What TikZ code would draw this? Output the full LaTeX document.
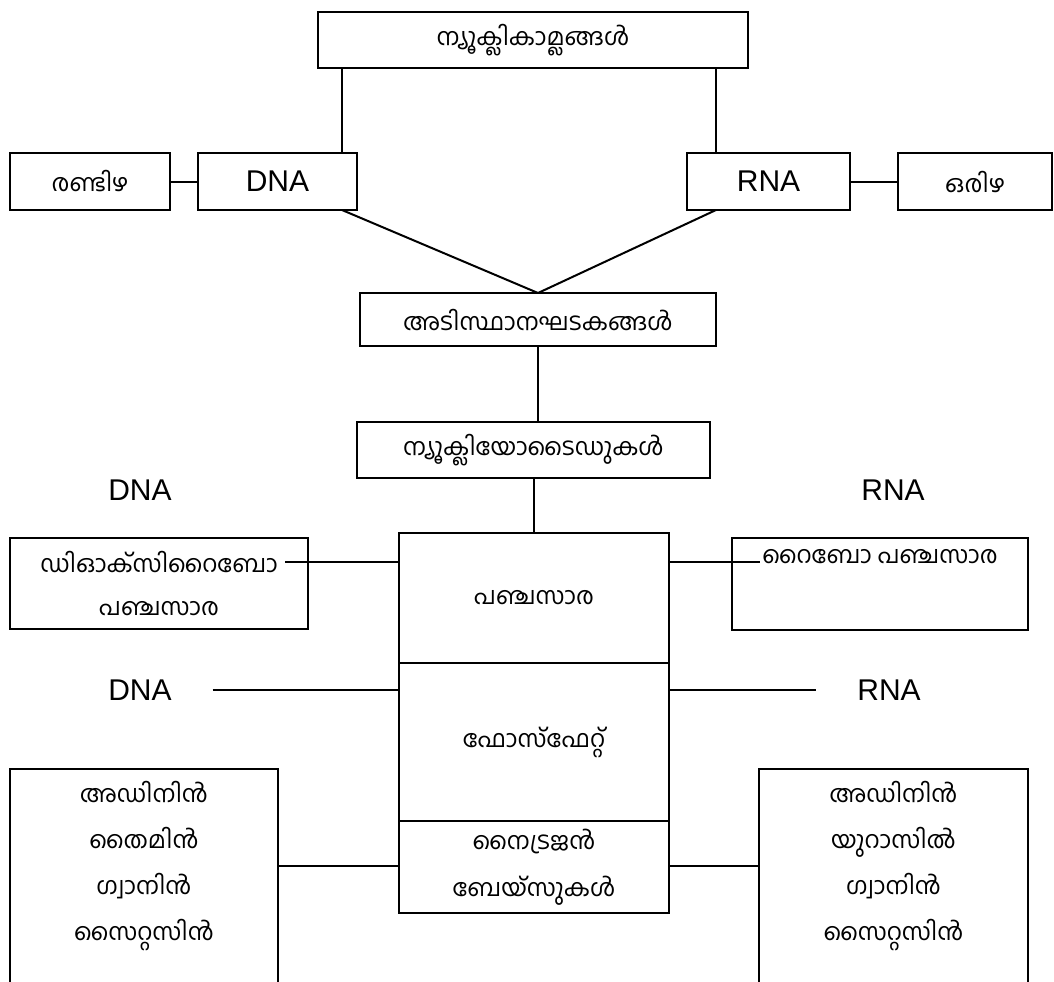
\documentclass[tikz,border=0pt]{standalone}
\usepackage{fontspec}
\setmainfont{Liberation Sans}
\newfontfamily\ml[Script=Malayalam]{Hind Kochi}
\begin{document}
\begin{tikzpicture}[x=0.5pt,y=-0.5pt,
  every node/.style={inner sep=0pt, outer sep=0pt, anchor=center},
  box/.style={draw, line width=1pt},
  mltext/.style={font=\ml\fontsize{12}{21.5}\selectfont, align=center},
  latin/.style={font=\fontsize{15}{18}\selectfont},
  link/.style={line width=1pt}]
\useasboundingbox[fill=white] (0,0) rectangle (1054,981);

% upper part: nucleic acids and the two kinds
\node[box, mltext, minimum width=215pt, minimum height=28pt] (top) at (533,40) {ന്യൂക്ലികാമ്ലങ്ങൾ};
\node[box, mltext, minimum width=80pt, minimum height=28.5pt] (dbl) at (90,181.5) {രണ്ടിഴ};
\node[box, latin, minimum width=79.5pt, minimum height=28.5pt] (dna) at (277.5,181.5) {DNA};
\node[box, latin, minimum width=81.5pt, minimum height=28.5pt] (rna) at (768.5,181.5) {RNA};
\node[box, mltext, minimum width=77pt, minimum height=28.5pt] (sgl) at (975,181.5) {ഒരിഴ};

\node[box, mltext, minimum width=178pt, minimum height=26.5pt] (base) at (538,319.5) {അടിസ്ഥാനഘടകങ്ങൾ};
\node[box, mltext, minimum width=176.5pt, minimum height=28pt] (nuc) at (533.5,450) {ന്യൂക്ലിയോടൈഡുകൾ};

% central column: sugar, phosphate, nitrogen bases
\node[box, mltext, minimum width=135pt, minimum height=65pt] (sugar) at (534,598) {പഞ്ചസാര};
\node[box, mltext, minimum width=135pt, minimum height=79pt] (phos) at (534,742) {ഫോസ്ഫേറ്റ്};
\node[box, mltext, minimum width=135pt, minimum height=46pt, font=\ml\fontsize{12}{23.5}\selectfont] (nbase) at (534,867) {നൈട്രജൻ\\ബേയ്സുകൾ};

% side labels
\node[latin] (dnaA) at (140,490) {DNA};
\node[latin] (rnaA) at (893,490) {RNA};
\node[latin] (dnaB) at (140,690) {DNA};
\node[latin] (rnaB) at (889,690) {RNA};

% sugar types
\node[box, mltext, minimum width=149pt, minimum height=45.5pt] (deoxy) at (159,583.5) {ഡിഓക്സിറൈബോ\\പഞ്ചസാര};
\node[box, mltext, minimum width=148pt, minimum height=46pt] (ribo) at (880,584) {റൈബോ പഞ്ചസാര\\\strut};

% bases, boxes open at the lower edge
\node[mltext, minimum width=134pt, minimum height=97pt, font=\ml\fontsize{12}{23}\selectfont] (lb) at (144,866) {അഡിനിൻ\\തൈമിൻ\\ഗ്വാനിൻ\\സൈറ്റസിൻ};
\node[mltext, minimum width=134.5pt, minimum height=97pt, font=\ml\fontsize{12}{23}\selectfont] (rb) at (893.5,866) {അഡിനിൻ\\യുറാസിൽ\\ഗ്വാനിൻ\\സൈറ്റസിൻ};
\coordinate (floor) at (0,985);
\draw[link] (lb.north west |- floor) -- (lb.north west) -- (lb.north east) -- (lb.north east |- floor);
\draw[link] (rb.north west |- floor) -- (rb.north west) -- (rb.north east) -- (rb.north east |- floor);

% connectors
\coordinate (vl) at (342,0);
\coordinate (vr) at (716,0);
\draw[link] (top.south -| vl) -- (dna.north -| vl);
\draw[link] (top.south -| vr) -- (rna.north -| vr);
\draw[link] (dbl.east) -- (dna.west);
\draw[link] (rna.east) -- (sgl.west);
\draw[link] (dna.south -| vl) -- (base.north);
\draw[link] (rna.south -| vr) -- (base.north);
\draw[link] (base.south) -- (base.south |- nuc.north);
\draw[link] (nuc.south -| sugar.north) -- (sugar.north);

\coordinate (sugarrow) at (0,562);
\coordinate (dxend) at (285,562);
\coordinate (rbend) at (760,562);
\draw[link] (sugar.west |- sugarrow) -- (dxend);
\draw[link] (sugar.east |- sugarrow) -- (rbend);

\draw[link] ([xshift=20.5pt]dnaB.east) -- (dnaB.east -| phos.west);
\draw[link] (phos.east |- rnaB.west) -- ([xshift=-20.5pt]rnaB.west);

\draw[link] (nbase.west |- lb.east) -- (lb.east);
\draw[link] (nbase.east |- rb.west) -- (rb.west);
\end{tikzpicture}
\end{document}
